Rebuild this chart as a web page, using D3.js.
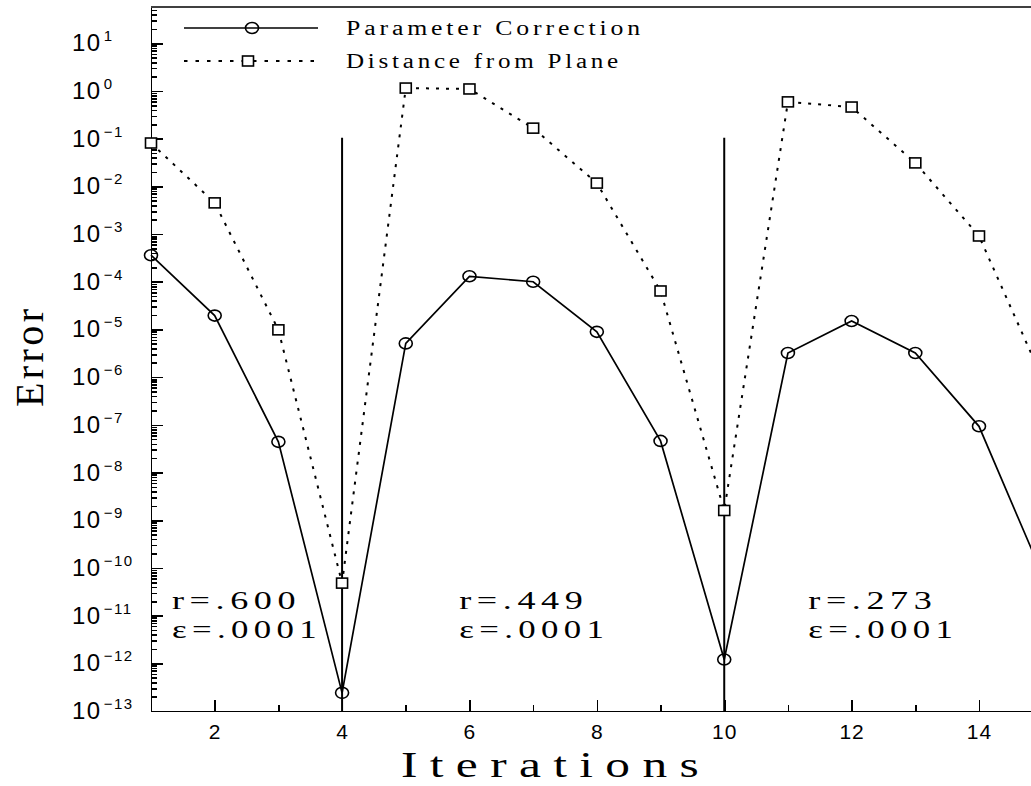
<!DOCTYPE html>
<html>
<head>
<meta charset="utf-8">
<title>Error vs Iterations</title>
<script src="https://d3js.org/d3.v7.min.js"></script>
<style>
  body { margin: 0; background: #fff; }
  svg { display: block; background: #fff; }
  .axis path, .axis line { stroke: #000; stroke-width: 1.6px; fill: none; shape-rendering: crispEdges; }
  .axis text { font-family: "Liberation Sans", sans-serif; font-size: 21px; fill: #000; letter-spacing: 1px; }
  .ylab { font-family: "Liberation Sans", sans-serif; fill: #000; }
  .title { font-family: "Liberation Serif", serif; fill: #000; }
  .anno { font-family: "Liberation Serif", serif; font-size: 26px; fill: #000; letter-spacing: 4px; }
  .legend text { font-family: "Liberation Serif", serif; font-size: 20px; fill: #000; letter-spacing: 3px; }
</style>
</head>
<body>
<div id="chart"></div>
<script>
// values
const iterations = [1, 2, 3, 4, 5, 6, 7, 8, 9, 10, 11, 12, 13, 14, 15];
const paramCorrection = [3.6e-4, 1.95e-5, 4.4e-8, 2.4e-13, 5.1e-6, 1.3e-4, 1.0e-4, 8.9e-6, 4.6e-8, 1.2e-12, 3.2e-6, 1.5e-5, 3.2e-6, 9.3e-8, 7e-11];
const distPlane = [8.1e-2, 4.5e-3, 9.8e-6, 4.8e-11, 1.15, 1.1, 0.166, 1.17e-2, 6.4e-5, 1.6e-9, 0.59, 0.46, 3.1e-2, 9.1e-4, 9e-7];
const restartIters = [4, 10];
const restartTop = 0.105;
const xTicks = [2, 4, 6, 8, 10, 12, 14];
const yExps = [-13, -12, -11, -10, -9, -8, -7, -6, -5, -4, -3, -2, -1, 0, 1];
const legendLabels = ["Parameter Correction", "Distance from Plane"];
const annoIter = [1.33, 5.84, 11.32];
const annoR = ["r=.600", "r=.449", "r=.273"];
const annoEps = ["\u03b5=.0001", "\u03b5=.0001", "\u03b5=.0001"];
const annoErr = 1.3e-11;

const W = 1031, H = 786;
const plotLeft = 151, plotBottom = 711, plotTop = 7;
const unit = (979 - 151) / 13;

const svg = d3.select("#chart").append("svg")
    .attr("width", W)
    .attr("height", H);

const x = d3.scaleLinear().domain([1, 15.5]).range([plotLeft, plotLeft + 14.5 * unit]);
const y = d3.scaleLog().domain([1e-13, Math.pow(10, 1.76)]).range([plotBottom, plotTop]);

// top frame line
svg.append("line")
    .attr("x1", plotLeft).attr("x2", x(15.5))
    .attr("y1", plotTop).attr("y2", plotTop)
    .attr("stroke", "#000").attr("stroke-width", 1.6);

// x axis: minor ticks at every iteration, labelled ticks at even ones
svg.append("g").attr("class", "axis")
    .attr("transform", `translate(0,${plotBottom})`)
    .call(d3.axisBottom(x).tickValues(iterations).tickSizeInner(-6).tickSizeOuter(0).tickFormat(""));
svg.append("g").attr("class", "axis")
    .attr("transform", `translate(0,${plotBottom})`)
    .call(d3.axisBottom(x).tickValues(xTicks).tickSizeInner(-11).tickSizeOuter(0).tickPadding(13).tickFormat(d3.format("d")));

// y axis: ticks point inward
svg.append("g").attr("class", "axis")
    .attr("transform", `translate(${plotLeft},0)`)
    .call(d3.axisRight(y).tickValues(y.ticks(100)).tickSizeInner(6).tickSizeOuter(0).tickFormat(""));
svg.append("g").attr("class", "axis")
    .attr("transform", `translate(${plotLeft},0)`)
    .call(d3.axisRight(y).tickValues(yExps.map(e => Math.pow(10, e))).tickSizeInner(12).tickSizeOuter(0).tickFormat(""));

const ylab = svg.append("g").selectAll("text")
    .data(yExps)
    .enter().append("text")
    .attr("class", "ylab")
    .attr("x", 72)
    .attr("y", d => y(Math.pow(10, d)) + 8);
ylab.append("tspan").style("font-size", "24px").style("letter-spacing", "1.5px").text("10");
ylab.append("tspan")
    .attr("dx", 2).attr("dy", -10)
    .style("font-size", "15px").style("letter-spacing", "1.5px")
    .text(d => String(d).replace("-", "\u2212"));

// axis titles
svg.append("text").attr("class", "title")
    .attr("transform", "translate(43,358) rotate(-90)")
    .attr("text-anchor", "middle")
    .style("font-size", "40px")
    .attr("textLength", 98).attr("lengthAdjust", "spacing")
    .text("Error");
svg.append("text").attr("class", "title")
    .attr("x", 556).attr("y", 777)
    .attr("text-anchor", "middle")
    .style("font-size", "36px")
    .style("letter-spacing", "9px")
    .attr("textLength", 310).attr("lengthAdjust", "spacingAndGlyphs")
    .text("Iterations");

// restart markers
svg.append("g").selectAll("line")
    .data(restartIters)
    .enter().append("line")
    .attr("x1", d => x(d)).attr("x2", d => x(d))
    .attr("y1", y(restartTop)).attr("y2", y(1e-13))
    .attr("stroke", "#000").attr("stroke-width", 2);

const line = d3.line()
    .x((d, i) => x(iterations[i]))
    .y(d => y(d));

svg.append("path")
    .datum(paramCorrection)
    .attr("fill", "none").attr("stroke", "#000").attr("stroke-width", 1.7)
    .attr("d", line);

svg.append("path")
    .datum(distPlane)
    .attr("fill", "none").attr("stroke", "#000").attr("stroke-width", 2)
    .attr("stroke-dasharray", "3,7")
    .attr("d", line);

svg.append("g").selectAll("ellipse")
    .data(paramCorrection)
    .enter().append("ellipse")
    .attr("cx", (d, i) => x(iterations[i]))
    .attr("cy", d => y(d))
    .attr("rx", 6.5).attr("ry", 5.5)
    .attr("fill", "none").attr("stroke", "#000").attr("stroke-width", 1.6);

svg.append("g").selectAll("rect")
    .data(distPlane)
    .enter().append("rect")
    .attr("x", (d, i) => x(iterations[i]) - 5.5)
    .attr("y", d => y(d) - 5)
    .attr("width", 11).attr("height", 10)
    .attr("fill", "#fff").attr("stroke", "#000").attr("stroke-width", 1.6);

// annotations
const anno = svg.append("g").selectAll("g")
    .data(annoR)
    .enter().append("g");
anno.append("text").attr("class", "anno")
    .attr("x", (d, i) => x(annoIter[i]))
    .attr("y", y(annoErr) - 1)
    .attr("textLength", 129).attr("lengthAdjust", "spacingAndGlyphs")
    .text(d => d);
anno.append("text").attr("class", "anno")
    .attr("x", (d, i) => x(annoIter[i]))
    .attr("y", y(annoErr) + 28)
    .attr("textLength", 150).attr("lengthAdjust", "spacingAndGlyphs")
    .text((d, i) => annoEps[i]);

// legend
const legend = svg.append("g").attr("class", "legend");
const lg = legend.selectAll("g")
    .data(legendLabels)
    .enter().append("g")
    .attr("transform", (d, i) => `translate(0,${28 + i * 33})`);
lg.append("line")
    .attr("x1", 184).attr("x2", (d, i) => i ? 315 : 318)
    .attr("stroke", "#000")
    .attr("stroke-width", (d, i) => i ? 2 : 1.7)
    .attr("stroke-dasharray", (d, i) => i ? "3.5,8" : null);
lg.filter((d, i) => i === 0).append("ellipse")
    .attr("cx", 252).attr("rx", 6.5).attr("ry", 5.5)
    .attr("fill", "none").attr("stroke", "#000").attr("stroke-width", 1.6);
lg.filter((d, i) => i === 1).append("rect")
    .attr("x", 242.5).attr("y", -5).attr("width", 11).attr("height", 10)
    .attr("fill", "#fff").attr("stroke", "#000").attr("stroke-width", 1.6);
lg.append("text")
    .attr("x", 346).attr("y", 7)
    .attr("textLength", (d, i) => i ? 276 : 298).attr("lengthAdjust", "spacingAndGlyphs")
    .text(d => d);
</script>
</body>
</html>
